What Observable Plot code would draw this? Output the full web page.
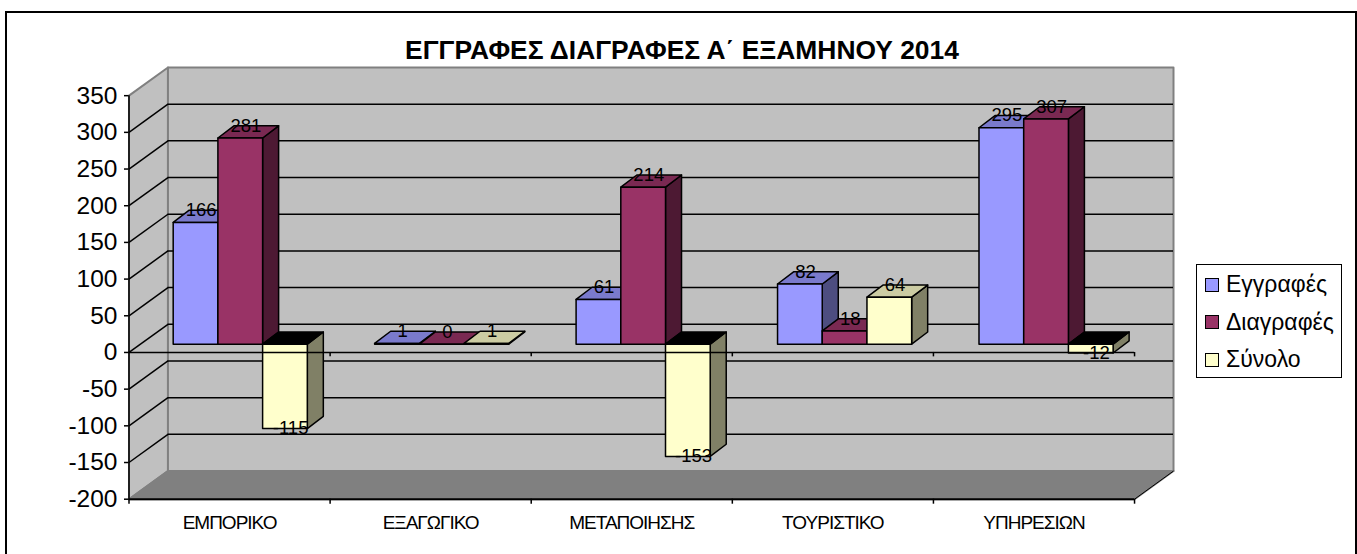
<!DOCTYPE html>
<html><head><meta charset="utf-8">
<script src="https://cdn.jsdelivr.net/npm/d3@7"></script>
<script src="https://cdn.jsdelivr.net/npm/@observablehq/plot@0.6"></script>
<style>
html,body{margin:0;padding:0;background:#fff;overflow:hidden}
#wrap{position:relative;width:1357px;height:554px;overflow:hidden;font-family:"Liberation Sans",Arial,sans-serif;color:#000}
#wrap svg{position:absolute;left:0;top:0;background:transparent}
#frame{position:absolute;left:5px;top:11px;width:1348px;height:560px;border:2px solid #000}
#title{position:absolute;left:382px;width:600px;top:36px;text-align:center;font-weight:bold;font-size:26.4px;line-height:28px;white-space:nowrap}
#legend{position:absolute;left:1196px;top:264px;width:144px;height:112px;border:1px solid #000;background:#fff}
#legend div{position:absolute;left:8px;display:flex;align-items:center;font-size:23px;height:26px;white-space:nowrap}
#legend i{display:block;width:12px;height:12px;border:1px solid #000;margin-right:7px}
g[aria-label="x-axis tick label"] text{letter-spacing:-1px}
</style></head><body>
<div id="wrap">
<div id="frame"></div>
<div id="title"></div>
<div id="legend"></div>
</div>
<script>
const chartTitle = "ΕΓΓΡΑΦΕΣ ΔΙΑΓΡΑΦΕΣ Α΄ ΕΞΑΜΗΝΟΥ 2014";
const categories = ["ΕΜΠΟΡΙΚΟ","ΕΞΑΓΩΓΙΚΟ","ΜΕΤΑΠΟΙΗΣΗΣ","ΤΟΥΡΙΣΤΙΚΟ","ΥΠΗΡΕΣΙΩΝ"];
const seriesNames = ["Εγγραφές","Διαγραφές","Σύνολο"];
const registrations = [166,1,61,82,295];
const deletions = [281,0,214,18,307];
const totals = [-115,1,-153,64,-12];
const yTicks = [350,300,250,200,150,100,50,0,-50,-100,-150,-200];
const frontColors = ["#9999FF","#993366","#FFFFCC"];
const topColors = ["#7A7ACC","#7A2952","#CCCCA3"];
const sideColors = ["#4D4D80","#4D1933","#808066"];
const values = [registrations,deletions,totals];

// depth of the 3D box, in scale units
const wallDX = 0.1937, wallDY = 38.4;
const barW = 0.2223, gapX = (1-3*barW)/2, barStep = 1.0017;
const frontDX = 0.0532, frontDY = 11.3;
const barDX = 0.0796, barDY = 16.6;
const nCat = categories.length;

const faces = [];
const poly = (list,id,fill,pts)=>pts.forEach(([x,y])=>list.push({id,fill,x,y}));
const bars = [];
categories.forEach((c,i)=>seriesNames.forEach((s,j)=>{
  const v = values[j][i];
  const x0 = i*barStep+gapX+frontDX+j*barW, x1 = x0+barW;
  const base = frontDY, end = v+frontDY;
  const hi = Math.max(base,end), lo = Math.min(base,end);
  const id = `${i}-${j}`;
  poly(faces,id+"s",sideColors[j],[[x1,lo],[x1+barDX,lo+barDY],[x1+barDX,hi+barDY],[x1,hi]]);
  poly(faces,id+"t",v<0?"#000000":topColors[j],[[x0,hi],[x0+barDX,hi+barDY],[x1+barDX,hi+barDY],[x1,hi]]);
  poly(faces,id+"f",frontColors[j],[[x0,lo],[x0,hi],[x1,hi],[x1,lo]]);
  bars.push({x:(x0+x1)/2+0.028,y:v<0?end:end+barDY,v,neg:v<0});
}));

const shell = [];
poly(shell,"left","#C0C0C0",[[0,-200],[wallDX,-200+wallDY],[wallDX,350+wallDY],[0,350]]);
poly(shell,"back","#C0C0C0",[[wallDX,-200+wallDY],[wallDX,350+wallDY],[nCat+wallDX,350+wallDY],[nCat+wallDX,-200+wallDY]]);
poly(shell,"floor","#808080",[[0,-200],[wallDX,-200+wallDY],[nCat+wallDX,-200+wallDY],[nCat,-200]]);

const innerTicks = yTicks.filter(t=>t!==350&&t!==-200);
const edges = d3.range(nCat+1);
const F = '"Liberation Sans",Arial,sans-serif';

const svg = Plot.plot({
  width:1357,height:554,
  marginLeft:128.5,marginRight:184,marginTop:67,marginBottom:55.3,
  style:{background:"transparent",fontFamily:F,color:"#000"},
  x:{domain:[0,nCat+wallDX],label:null},
  y:{domain:[-200,350+wallDY],label:null},
  color:{type:"identity"},
  marks:[
    Plot.line(shell,{x:"x",y:"y",z:"id",fill:"fill",stroke:"#808080",strokeWidth:2,curve:"linear-closed"}),
    Plot.ruleY(innerTicks,{y:d=>d+wallDY,x1:wallDX,x2:nCat+wallDX,stroke:"#000",strokeWidth:1.5}),
    Plot.link(innerTicks,{x1:0,y1:d=>d,x2:wallDX,y2:d=>d+wallDY,stroke:"#000",strokeWidth:1.5}),
    Plot.axisY({ticks:yTicks,anchor:"left",label:null,tickSize:4.5,tickPadding:7,fontSize:24.5,strokeWidth:1.5,tickFormat:d=>String(d)}),
    Plot.ruleX([0],{y1:-200,y2:350,stroke:"#000",strokeWidth:1.5}),
    Plot.ruleY([-200],{x1:0,x2:nCat,stroke:"#000",strokeWidth:2}),
    Plot.link([0],{x1:nCat,y1:-200,x2:nCat+wallDX,y2:-200+wallDY,stroke:"#000",strokeWidth:1}),
    Plot.axisX({ticks:edges,anchor:"bottom",label:null,tickSize:5,tickFormat:()=>"",strokeWidth:1.5}),
    Plot.axisX({ticks:categories.map((c,i)=>i+0.5),anchor:"bottom",label:null,tickSize:0,tickPadding:16,fontSize:19,tickFormat:d=>categories[d-0.5]}),
    Plot.line(faces,{x:"x",y:"y",z:"id",fill:"fill",stroke:"#000",strokeWidth:1.5,curve:"linear-closed"}),
    Plot.ruleY([0],{x1:0,x2:nCat,stroke:"#000",strokeWidth:1.5}),
    Plot.ruleX(edges.slice(1),{y1:0,y2:-6,stroke:"#000",strokeWidth:1.5}),
    Plot.text(bars,{x:"x",y:"y",text:d=>String(d.v),fontSize:18.5,fill:"#000"})
  ]
});
const wrap = document.getElementById("wrap");
wrap.insertBefore(svg, document.getElementById("title"));
document.getElementById("title").textContent = chartTitle;
const lg = document.getElementById("legend");
seriesNames.forEach((s,j)=>{
  const d = document.createElement("div");
  d.style.top = (6.5+37.5*j)+"px";
  const sw = document.createElement("i"); sw.style.background = frontColors[j];
  d.appendChild(sw); d.appendChild(document.createTextNode(s));
  lg.appendChild(d);
});
</script>
</body></html>
